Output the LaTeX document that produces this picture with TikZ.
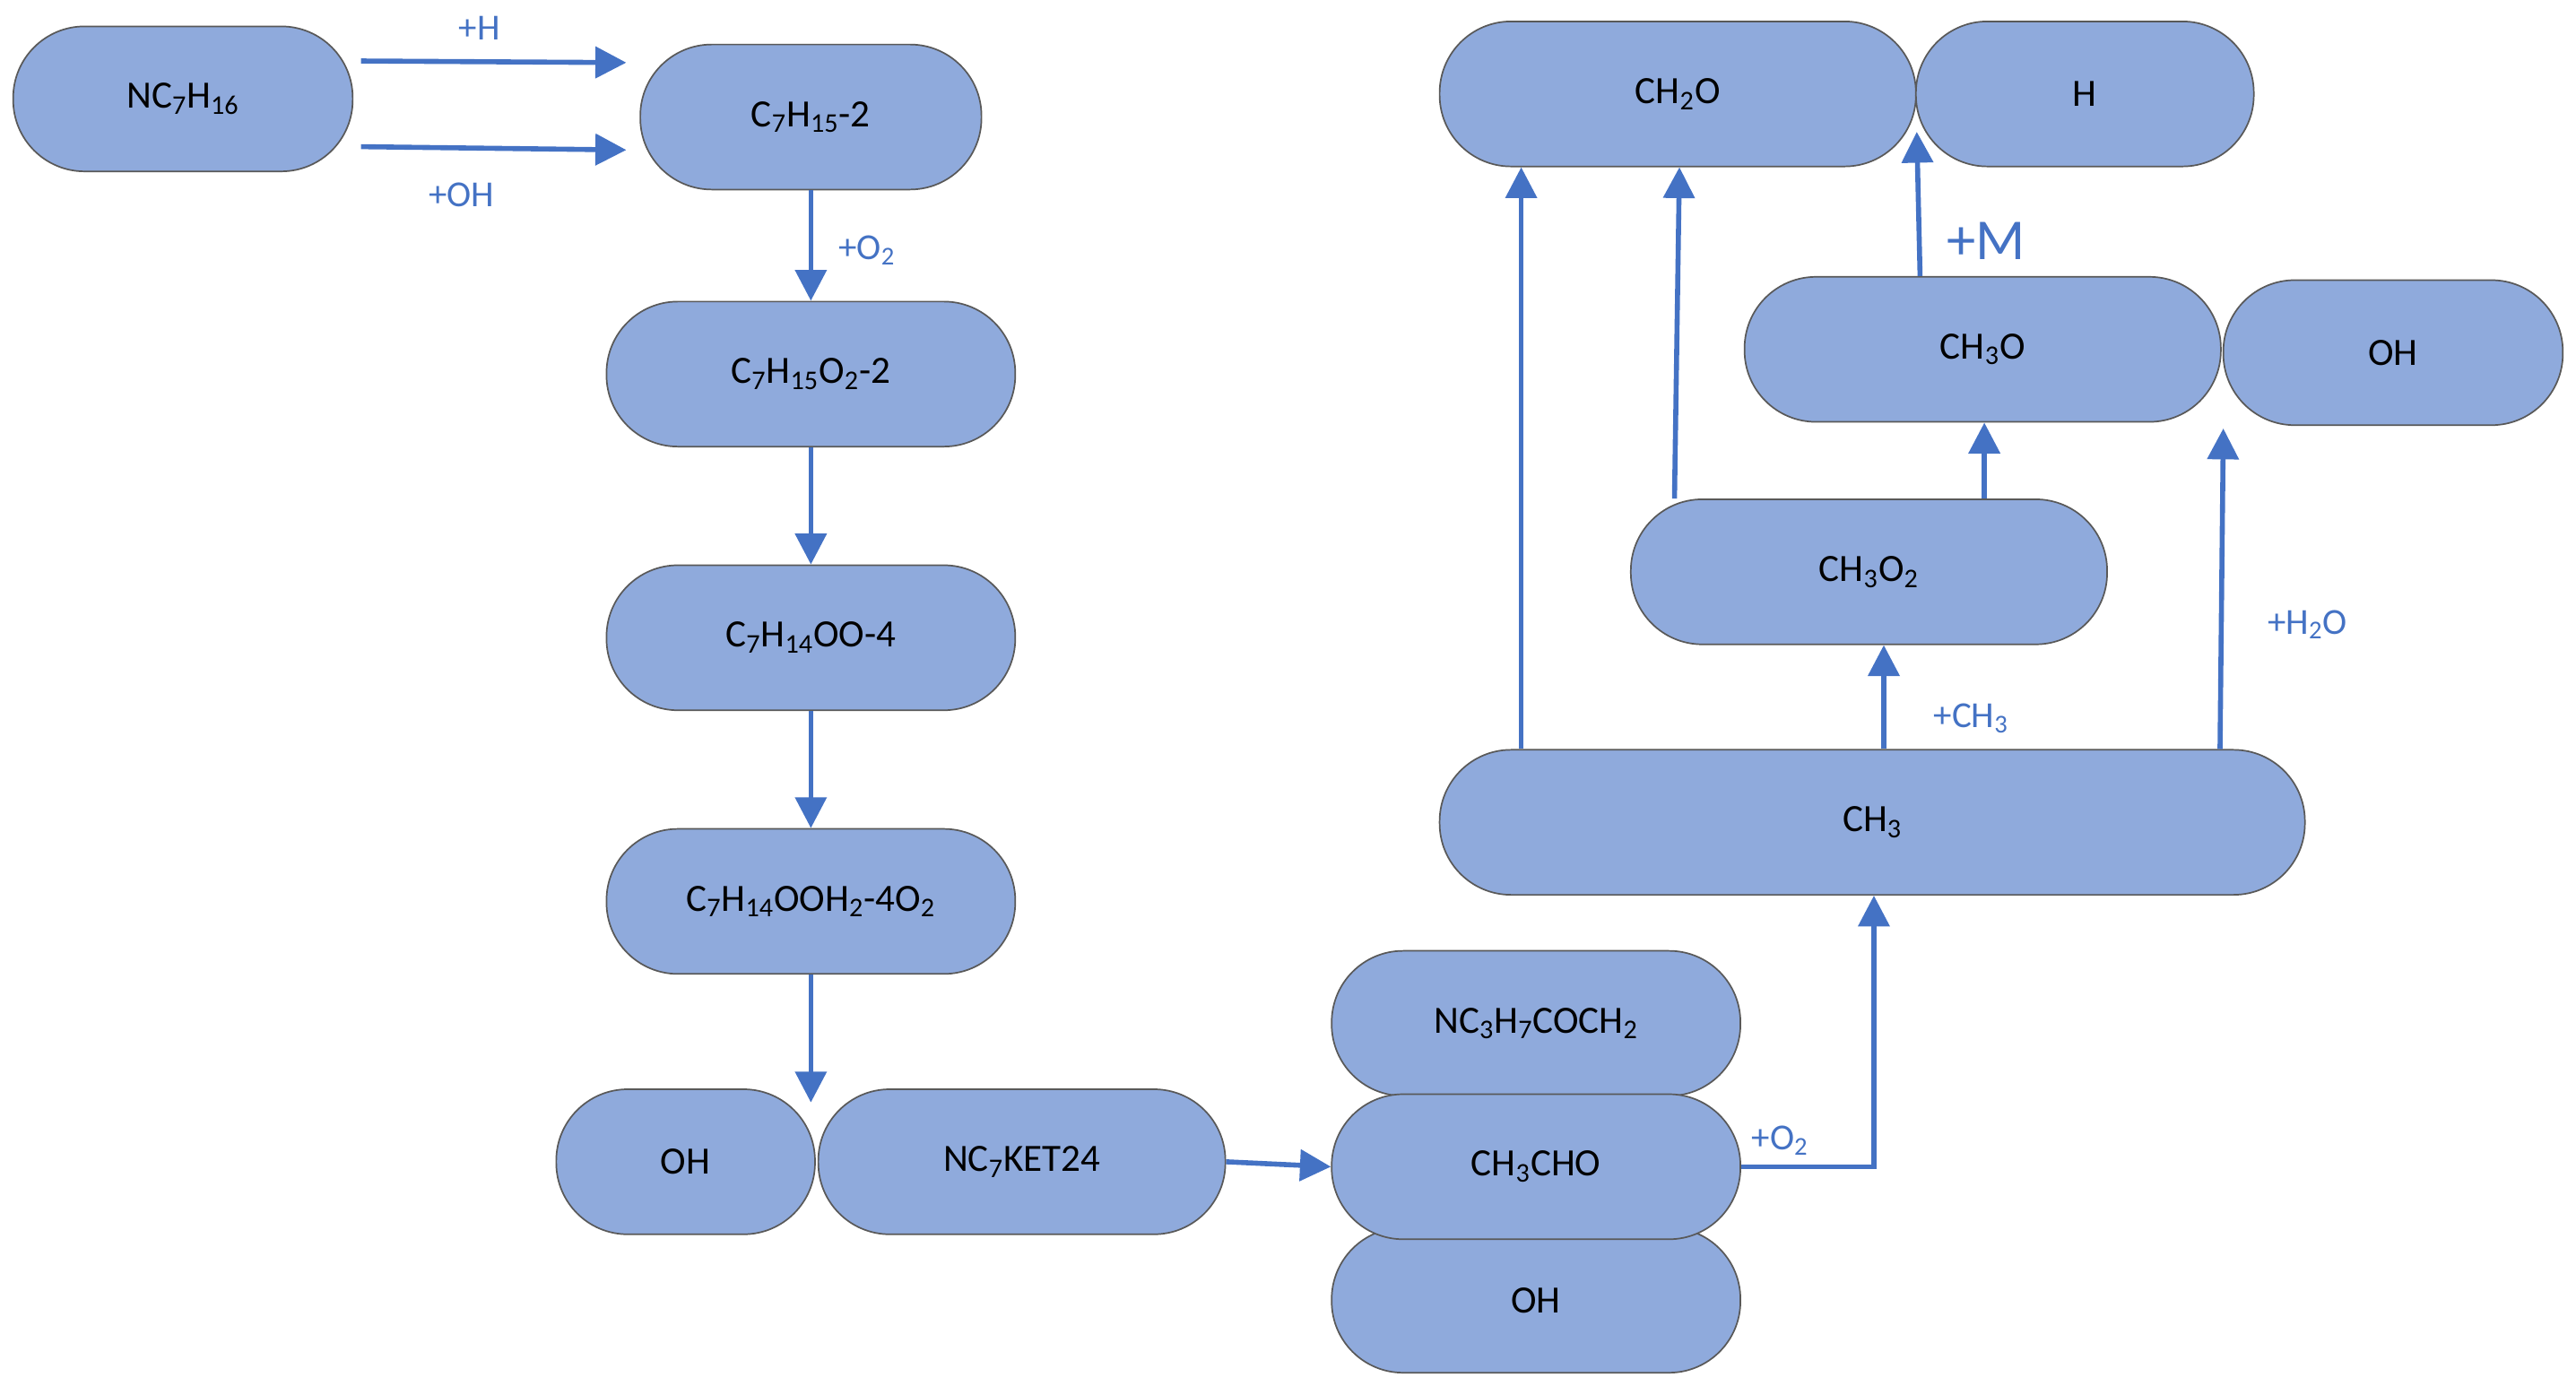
\documentclass[tikz,border=0pt]{standalone}
\usepackage{fontspec}
\setmainfont{Carlito}
\usetikzlibrary{arrows.meta}
\newcommand{\sbx}[1]{\textsubscript{#1}}
\begin{document}
\begin{tikzpicture}[x=0.03cm,y=-0.03cm,
 box/.style={draw=black!65,line width=0.8pt,fill={rgb,255:red,143;green,170;blue,220},rounded corners=1.3cm,minimum height=2.64cm,font=\fontsize{20}{24}\selectfont,inner sep=0pt},
 ar/.style={draw={rgb,255:red,68;green,114;blue,196},line width=2.6pt,-{Triangle[length=16pt,width=16pt]}},
 lb/.style={text={rgb,255:red,68;green,114;blue,196},font=\fontsize{19}{22}\selectfont}]
\useasboundingbox (0,0) rectangle (1563,841);
\node[box,minimum width=6.18cm] (a) at (111,60) {NC\sbx{7}H\sbx{16}};
\node[box,minimum width=6.21cm] (b) at (492,71) {C\sbx{7}H\sbx{15}-2};
\node[box,minimum width=7.44cm] (c) at (492,227) {C\sbx{7}H\sbx{15}O\sbx{2}-2};
\node[box,minimum width=7.44cm] (d) at (492,387) {C\sbx{7}H\sbx{14}OO-4};
\node[box,minimum width=7.44cm] (e) at (492,547) {C\sbx{7}H\sbx{14}OOH\sbx{2}-4O\sbx{2}};
\node[box,minimum width=4.71cm] (oh1) at (416,705) {OH};
\node[box,minimum width=7.41cm] (k) at (620,705) {NC\sbx{7}KET24};
\node[box,minimum width=7.44cm] (n3) at (932,621) {NC\sbx{3}H\sbx{7}COCH\sbx{2}};
\node[box,minimum width=7.44cm] (oh2) at (932,789) {OH};
\node[box,minimum width=7.44cm] (ald) at (932,708) {CH\sbx{3}CHO};
\node[box,minimum width=15.75cm] (m) at (1136,499) {CH\sbx{3}};
\node[box,minimum width=8.67cm] (mo2) at (1134,347) {CH\sbx{3}O\sbx{2}};
\node[box,minimum width=8.67cm] (mo) at (1203,212) {CH\sbx{3}O};
\node[box,minimum width=6.18cm] (oh3) at (1452,214) {OH};
\node[box,minimum width=8.67cm] (fo) at (1018,57) {CH\sbx{2}O};
\node[box,minimum width=6.15cm] (h) at (1265,57) {H};
\coordinate (a1) at (219,37); \coordinate (b1) at (380,38);
\coordinate (a2) at (219,89); \coordinate (b2) at (380,91);
\draw[ar] (a1) -- (b1);
\draw[ar] (a2) -- (b2);
\node[lb] at (291,17) {+H};
\node[lb] at (280,118) {+OH};
\draw[ar] (b.south) -- (c.north);
\node[lb] at (526,152) {+O\sbx{2}};
\draw[ar] (c.south) -- (d.north);
\draw[ar] (d.south) -- (e.north);
\coordinate (j) at (492,669);
\draw[ar] (e.south) -- (j);
\draw[ar] (k.east) -- (ald.west);
\draw[ar] (ald.east) -- (1137,708) -- (m.south -| 1137,0);
\node[lb] at (1080,692) {+O\sbx{2}};
\draw[ar] (m.north -| 923,0) -- (fo.south -| 923,0);
\draw[ar] (m.north -| 1143,0) -- (mo2.south -| 1143,0);
\node[lb] at (1196,436) {+CH\sbx{3}};
\draw[ar] (m.north -| 1347,0) -- (1349,260);
\node[lb] at (1400,379) {+H\sbx{2}O};
\draw[ar] (mo2.north -| 1016,0) -- (fo.south -| 1019,0);
\draw[ar] (mo2.north -| 1204,0) -- (mo.south -| 1204,0);
\draw[ar] (mo.north -| 1165,0) -- (1163,80);
\node[lb,font=\fontsize{30}{34}\selectfont] at (1205,146) {+M};
\end{tikzpicture}
\end{document}
